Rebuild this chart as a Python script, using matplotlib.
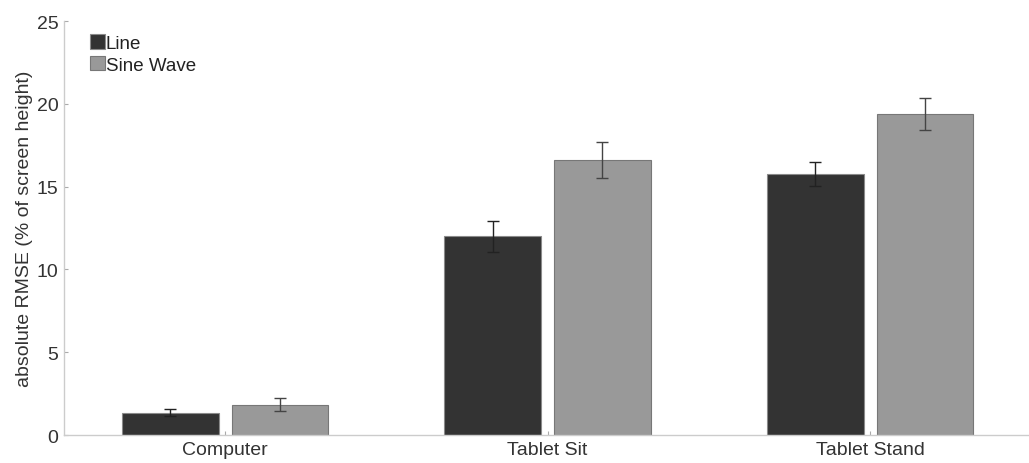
import numpy as np
import matplotlib
matplotlib.use("Agg")
from matplotlib import pyplot as plt

categories = ["Computer", "Tablet Sit", "Tablet Stand"]
line_vals = [1.35, 12.0, 15.76]
line_err = [0.22, 0.94, 0.73]
sine_vals = [1.83, 16.61, 19.40]
sine_err = [0.39, 1.11, 0.97]

plt.rcParams['font.family'] = ['Liberation Sans', 'DejaVu Sans']

fig = plt.figure(figsize=(10.29, 4.64), dpi=100)
ax = fig.add_axes([0.0622, 0.0603, 0.94, 0.892])

x = np.arange(1, len(categories) + 1)
w = 0.30
off = 0.17

ax.bar(x - off, line_vals, width=w, color="#333333", edgecolor="#8a8a8a",
       linewidth=0.8, label="Line")
ax.bar(x + off, sine_vals, width=w, color="#999999", edgecolor="#777777",
       linewidth=0.8, label="Sine Wave")
ax.errorbar(x - off, line_vals, yerr=line_err, fmt="none", ecolor="#222222",
            elinewidth=1.0, capsize=4.5, capthick=1.0)
ax.errorbar(x + off, sine_vals, yerr=sine_err, fmt="none", ecolor="#444444",
            elinewidth=1.0, capsize=4.5, capthick=1.0)

ax.set_xlim(0.5, 3.5)
ax.set_ylim(0, 25)
ax.set_yticks([0, 5, 10, 15, 20, 25])
ax.set_xticks(x)
ax.set_xticklabels(categories)
ax.set_ylabel("absolute RMSE (% of screen height)", fontsize=14,
              color="#333333", labelpad=3)

for s in ["top", "right"]:
    ax.spines[s].set_visible(False)
for s in ["left", "bottom"]:
    ax.spines[s].set_color("#cccccc")
    ax.spines[s].set_linewidth(1.0)

ax.tick_params(axis="both", direction="in", length=3, color="#aaaaaa",
               labelsize=14, labelcolor="#333333", pad=4)

leg = ax.legend(loc="upper left", bbox_to_anchor=(0.015, 0.995), frameon=False,
                fontsize=13.5, handlelength=0.8, handleheight=0.8,
                handletextpad=0.05, labelspacing=0.2, borderaxespad=0.2)
for t in leg.get_texts():
    t.set_color("#222222")

fig.savefig("out.png", dpi=100)
